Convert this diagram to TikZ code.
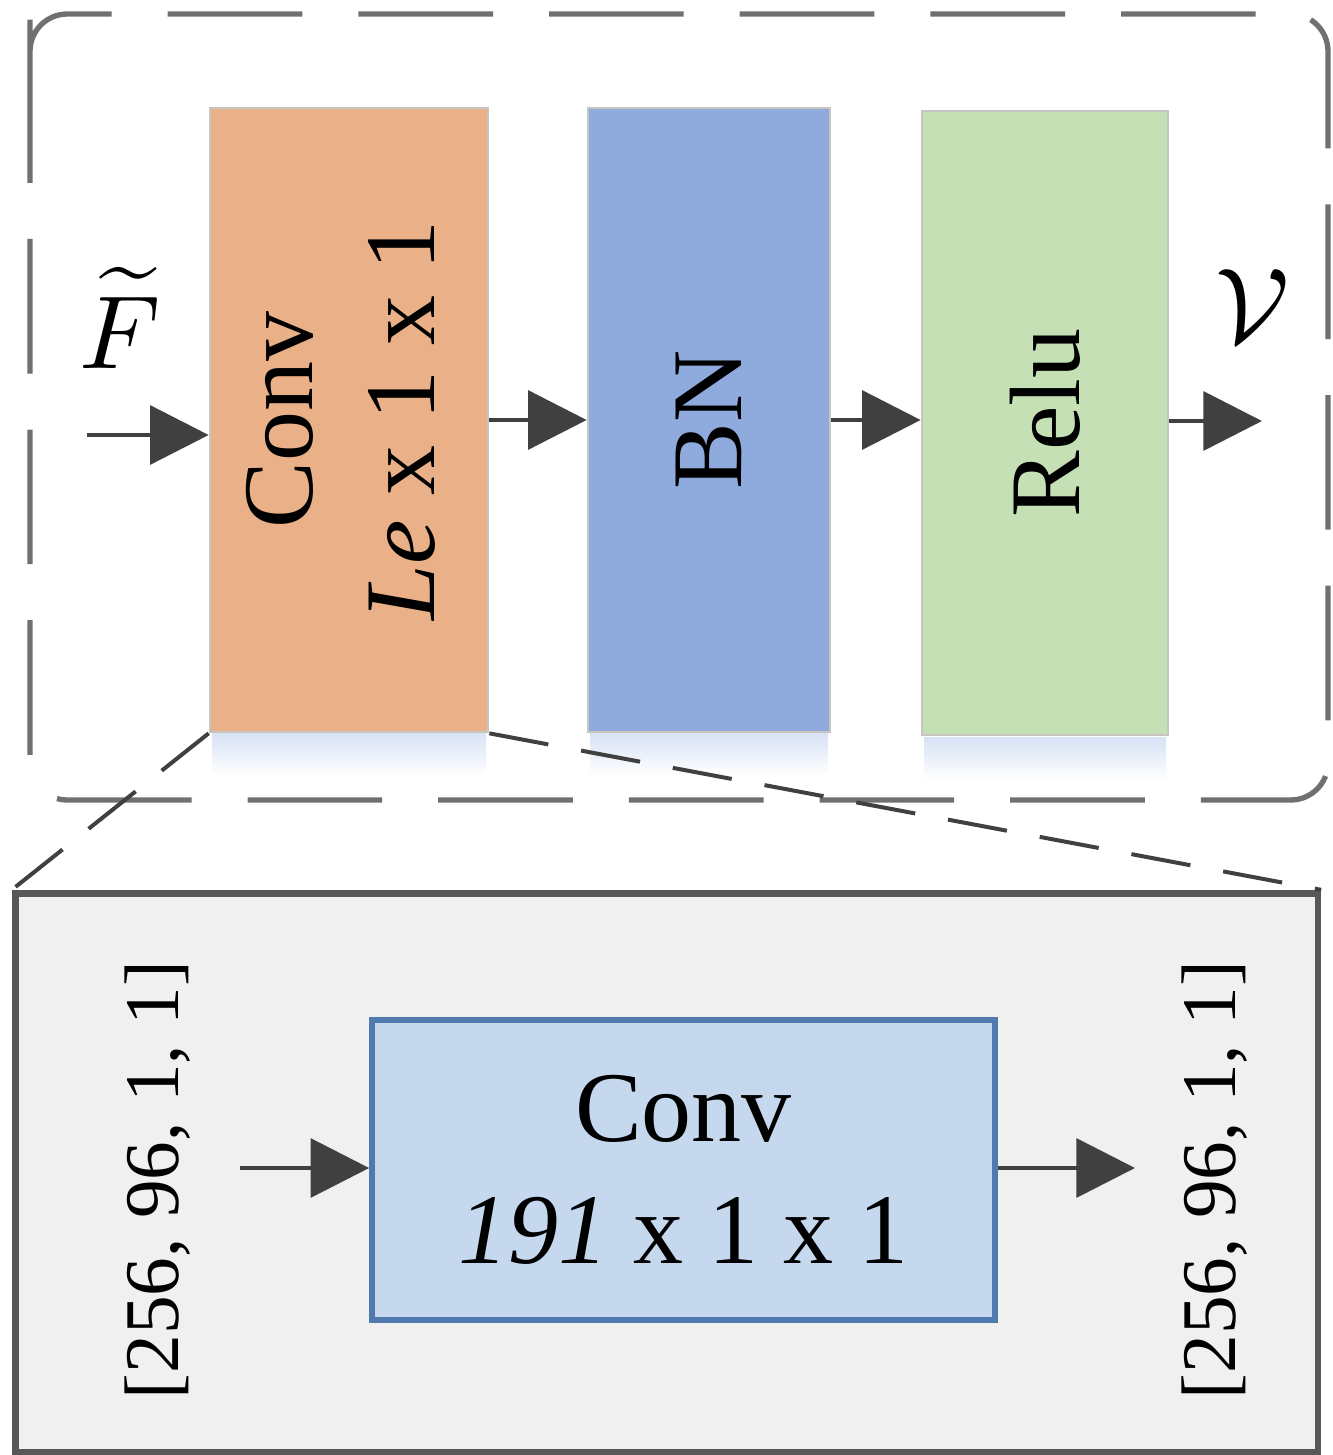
\documentclass[tikz,border=0pt]{standalone}
\usepackage{fontspec}
\setmainfont{Liberation Serif}
\usetikzlibrary{arrows.meta}

\definecolor{convfill}{RGB}{234,177,137}
\definecolor{bnfill}{RGB}{143,170,220}
\definecolor{relufill}{RGB}{198,224,181}
\definecolor{boxedge}{RGB}{200,196,192}
\definecolor{shadowblue}{RGB}{214,226,244}
\definecolor{arrowgray}{RGB}{64,64,64}
\definecolor{framegray}{RGB}{112,112,112}
\definecolor{detailfill}{RGB}{240,240,240}
\definecolor{detailedge}{RGB}{88,88,88}
\definecolor{kernfill}{RGB}{198,216,238}
\definecolor{kernedge}{RGB}{80,122,174}

\tikzset{
  layer/.style={draw=boxedge, line width=2pt, minimum height=468pt, inner sep=0pt},
  flow/.style={draw=arrowgray, line width=3.5pt, -{Triangle[length=44pt,width=44pt]}},
  bigtext/.style={font=\fontsize{75}{92}\selectfont},
  dimtext/.style={font=\fontsize{58}{70}\selectfont, rotate=90, inner sep=0pt}
}

\begin{document}
\begin{tikzpicture}[x=0.75pt,y=0.75pt,yscale=-1,xscale=1]
\useasboundingbox (0,0) rectangle (1333,1455);

%Dashed frame round the block
\draw [framegray, line width=4pt, dash pattern=on 101pt off 42pt, rounded corners=28pt] (30,57) -- (30,14) -- (1328,14) -- (1328,800) -- (30,800) -- cycle;

%Soft shadows under the layers
\shade [top color=shadowblue, bottom color=white] (212,732) rectangle (486,775);
\shade [top color=shadowblue, bottom color=white] (590,732) rectangle (828,775);
\shade [top color=shadowblue, bottom color=white] (924,737) rectangle (1166,780);

%Layers
\node [layer, fill=convfill, minimum width=208.5pt, bigtext] (conv) at (349,420) {\rotatebox{90}{\begin{tabular}{@{}c@{}}Conv\\\textit{Le} x 1 x 1\end{tabular}}};
\node [layer, fill=bnfill, minimum width=181.5pt, bigtext] (bn) at (709,420) {\rotatebox{90}{BN}};
\node [layer, fill=relufill, minimum width=184.5pt, bigtext] (relu) at (1045,423) {\rotatebox{90}{Relu}};

%Input and output
\node (fin) at (120,318) {\scalebox{7.8}{$\widetilde{F}$}};
\node (vout) at (1253,306) {\scalebox{8}{$\mathcal{V}$}};
\coordinate (fstart) at (87,435);
\coordinate (vend) at (1262,421);

%Arrows
\draw [flow] (fstart) -- (fstart -| conv.west);
\draw [flow] (conv.east) -- (bn.west);
\draw [flow] (bn.east) -- (bn.east -| relu.west);
\draw [flow] (relu.east |- vend) -- (vend);

%Detail of the conv layer
\node [draw=detailedge, fill=detailfill, line width=5pt, minimum width=977pt, minimum height=419pt, inner sep=0pt] (detail) at (666.5,1172.5) {};
\draw [arrowgray, line width=3pt, dash pattern=on 45pt off 25pt] (conv.south west) -- (detail.north west);
\draw [arrowgray, line width=3pt, dash pattern=on 45pt off 25pt] (conv.south east) -- (detail.north east);

\node [draw=kernedge, fill=kernfill, line width=4.5pt, minimum width=467pt, minimum height=225pt, inner sep=0pt, bigtext, align=center] (kern) at (683.5,1170) {Conv\\\textit{191} x 1 x 1};

% Text Node
\node [dimtext] (dimin) at (158,1180) {[256, 96, 1, 1]};
% Text Node
\node [dimtext] (dimout) at (1215,1180) {[256, 96, 1, 1]};

\coordinate (din) at (240,1168);
\coordinate (dout) at (1135,1168);
\draw [flow] (din) -- (din -| kern.west);
\draw [flow] (kern.east |- dout) -- (dout);
\end{tikzpicture}
\end{document}
